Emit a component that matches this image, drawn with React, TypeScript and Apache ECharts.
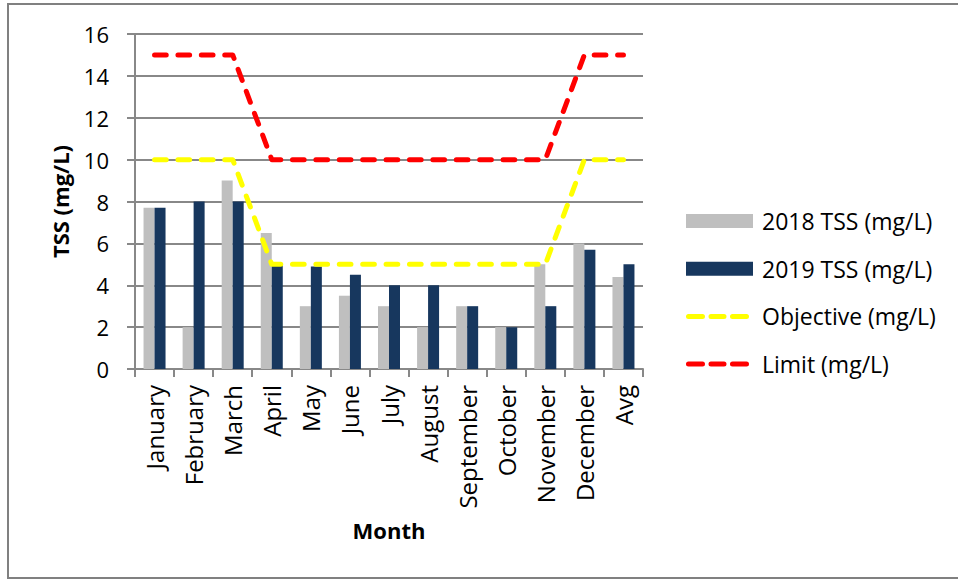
import React, { useEffect, useRef } from "react";
import * as echarts from "echarts";

const categories = ["January", "February", "March", "April", "May", "June", "July", "August", "September", "October", "November", "December", "Avg"];
const tss2018 = [7.7, 2, 9, 6.5, 3, 3.5, 3, 2, 3, 2, 5, 6, 4.4];
const tss2019 = [7.7, 8, 8, 5, 4.9, 4.5, 4, 4, 3, 2, 3, 5.7, 5];
const objective = [10, 10, 10, 5, 5, 5, 5, 5, 5, 5, 5, 10, 10];
const limit = [15, 15, 15, 10, 10, 10, 10, 10, 10, 10, 10, 15, 15];

const FONT = "'Open Sans', 'DejaVu Sans', sans-serif";
const GRIDC = "#888888";

// dashed legend icon: three rounded dashes inside a 67x14 box (tiny corner marks fix the box)
const dash = (x: number, w: number) =>
  `M${x + 2.5},4.5 h${w - 5} a2.5,2.5 0 0 1 0,5 h-${w - 5} a2.5,2.5 0 0 1 0,-5 z`;
const DASH_ICON =
  "path://M0,0 h0.01 v0.01 h-0.01 z M66.99,13.99 h0.01 v0.01 h-0.01 z " +
  dash(0, 19) + " " + dash(22.5, 18) + " " + dash(44, 19);

export default function App() {
  const ref = useRef<HTMLDivElement>(null);
  useEffect(() => {
    document.body.style.margin = "0";
    const chart = echarts.init(ref.current!, null, { renderer: "svg" });
    chart.setOption({
      animation: false,
      textStyle: { fontFamily: FONT, color: "#000" },
      grid: { left: 135, right: 315, top: 34, bottom: 213, containLabel: false },
      graphic: [
        {
          type: "rect",
          shape: { x: 8, y: 4, width: 960, height: 574 },
          style: { fill: "none", stroke: "#808080", lineWidth: 2 },
          silent: true,
        },
      ],
      legend: {
        orient: "vertical",
        left: 686,
        top: 209,
        padding: 0,
        itemWidth: 67,
        itemHeight: 14,
        itemGap: 23.7,
        textStyle: { fontFamily: FONT, fontSize: 23, color: "#000", lineHeight: 24, padding: [0, 0, 0, 4] },
        data: [
          { name: "2018 TSS (mg/L)", icon: "rect" },
          { name: "2019 TSS (mg/L)", icon: "rect" },
          { name: "Objective (mg/L)", icon: DASH_ICON, itemStyle: { color: "#ffff00" } },
          { name: "Limit (mg/L)", icon: DASH_ICON, itemStyle: { color: "#ff0000" } },
        ],
      },
      xAxis: {
        type: "category",
        data: categories,
        name: "Month",
        nameLocation: "middle",
        nameGap: 150,
        nameTextStyle: { fontFamily: FONT, fontSize: 22, fontWeight: "bold", color: "#000" },
        axisLine: { show: true, lineStyle: { color: GRIDC, width: 2 } },
        axisTick: { show: true, length: 8, lineStyle: { color: GRIDC, width: 2 } },
        axisLabel: { rotate: 90, fontSize: 24, fontFamily: FONT, color: "#000", margin: 16 },
        splitLine: { show: false },
      },
      yAxis: {
        type: "value",
        min: 0,
        max: 16,
        interval: 2,
        name: "TSS (mg/L)",
        nameLocation: "middle",
        nameGap: 64,
        nameTextStyle: { fontFamily: FONT, fontSize: 22, fontWeight: "bold", color: "#000" },
        axisLine: { show: true, lineStyle: { color: GRIDC, width: 2 } },
        axisTick: { show: true, length: 8, lineStyle: { color: GRIDC, width: 2 } },
        axisLabel: { fontSize: 22, fontFamily: FONT, color: "#000", margin: 26 },
        splitLine: { show: true, lineStyle: { color: GRIDC, width: 2 } },
      },
      series: [
        {
          name: "2018 TSS (mg/L)",
          type: "bar",
          data: tss2018,
          barWidth: 11,
          barGap: "0%",
          itemStyle: { color: "#bfbfbf" },
        },
        {
          name: "2019 TSS (mg/L)",
          type: "bar",
          data: tss2019,
          barWidth: 11,
          barGap: "0%",
          itemStyle: { color: "#17375e" },
        },
        {
          name: "Objective (mg/L)",
          type: "line",
          data: objective,
          symbol: "none",
          itemStyle: { color: "#ffff00" },
          lineStyle: { color: "#ffff00", width: 5, type: [11.7, 11.7], cap: "round", join: "round" },
        },
        {
          name: "Limit (mg/L)",
          type: "line",
          data: limit,
          symbol: "none",
          itemStyle: { color: "#ff0000" },
          lineStyle: { color: "#ff0000", width: 5, type: [11.7, 11.7], cap: "round", join: "round" },
        },
      ],
    });
    return () => chart.dispose();
  }, []);
  return <div ref={ref} style={{ width: 958, height: 582 }} />;
}
